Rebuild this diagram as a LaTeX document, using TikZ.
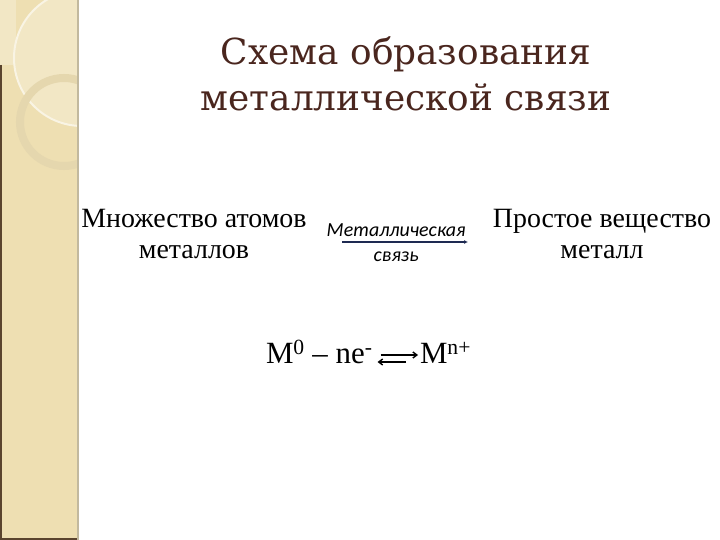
\documentclass[tikz,border=0pt]{standalone}
\usepackage{fontspec}
\setmainfont{Liberation Serif}
\newfontfamily\titlefont{DejaVu Serif}
\newfontfamily\bondfont{Carlito}
\usetikzlibrary{arrows.meta,positioning,calc}
\definecolor{titlebrown}{RGB}{74,38,30}
\definecolor{stripbeige}{RGB}{238,223,178}
\definecolor{stripedge}{RGB}{90,68,46}
\definecolor{bondblue}{RGB}{30,42,82}

\begin{document}
\begin{tikzpicture}[x=1bp,y=-1bp,
	every node/.style={inner sep=0pt,outer sep=0pt},
	heading/.style={align=center,text=titlebrown,font=\titlefont\fontsize{36}{46}\selectfont},
	txt/.style={align=center,font=\fontsize{28}{32}\selectfont},
	bondtxt/.style={font=\bondfont\itshape\fontsize{20}{22}\selectfont},
	eqtxt/.style={anchor=base west,font=\fontsize{31}{34}\selectfont},
	bond/.style={draw=bondblue,line width=1.4bp,-{Latex[length=4bp,width=4bp]}},
	eqarrow/.style={line width=1.4bp,-{Straight Barb[length=4bp,width=6bp]}}]

		\useasboundingbox (0,0) rectangle (720,540);
		\fill[white] (0,0) rectangle (720,540);
		\begin{scope}
			\clip (0,0) rectangle (78,540);
			\fill[stripbeige] (0,0) rectangle (78,540);
			\fill[stripbeige!75!white] (0,0) rectangle (16,65);
			\fill[stripbeige!75!white] (82,58) circle (68);
			\draw[stripbeige!35!white,line width=2bp] (82,58) circle (68);
			\draw[stripbeige!92!gray,line width=8bp] (64,122) circle (44);
		\end{scope}
		\draw[stripedge,line width=2.5bp] (1,65) -- (1,540);
		\draw[stripedge,line width=1.5bp] (0,539) -- (78,539);
		\draw[stripbeige!60!gray,line width=1.2bp] (78,0) -- (78,540);

		\node[heading] (title) at (406,74) {Схема образования\\металлической связи};

		\node[txt] (atoms) at (194,234) {Множество атомов\\металлов};
		\node[txt] (metal) at (602,234) {Простое вещество\\металл};

		\coordinate (bs) at (342,242);
		\coordinate (be) at (468,242);
		\draw[bond] (bs) -- (be);
		\node[bondtxt,above=5bp of $(bs)!0.43!(be)$] (bondup) {Металлическая};
		\node[bondtxt,below=10bp of $(bs)!0.43!(be)$] (bonddown) {связь};

		\node[eqtxt] (mzero) at (266,363) {M\textsuperscript{0} – ne\textsuperscript{-}};
		\node[eqtxt] (mplus) at (420,363) {M\textsuperscript{n+}};
		\draw[eqarrow] ([xshift=8bp,yshift=8bp]mzero.base east) -- ([xshift=-2bp,yshift=8bp]mplus.base west);
		\draw[eqarrow] ([xshift=-14bp,yshift=1bp]mplus.base west) -- ([xshift=5bp,yshift=1bp]mzero.base east);
		\end{tikzpicture}
\end{document}
